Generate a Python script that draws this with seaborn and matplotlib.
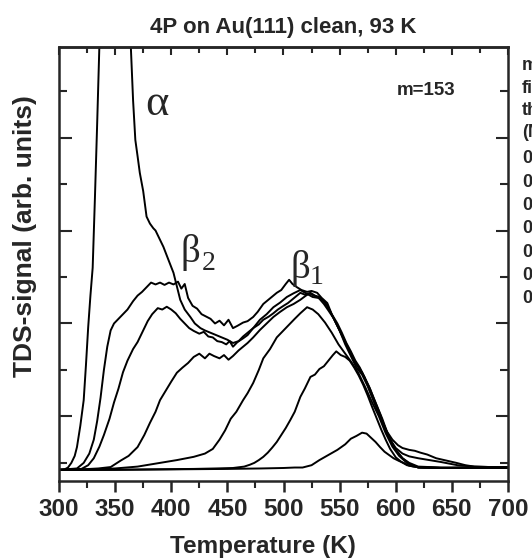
import numpy as np
import pandas as pd
import matplotlib
matplotlib.use("Agg")
import matplotlib.pyplot as plt
import seaborn as sns
from matplotlib.ticker import MultipleLocator

sns.set_style("ticks")
plt.rcParams['font.family'] = ['Liberation Sans', 'DejaVu Sans']
plt.rcParams['font.weight'] = 'bold'

# ---- data (temperature in K, TDS signal in arb. units) ----
T_C = [300, 350, 400, 450, 480, 500, 510, 517, 525, 532, 540, 548, 555, 560, 565, 570,
       574, 578, 582, 586, 590, 594, 598, 603, 607, 612, 621, 640, 660, 680, 700]
S_C = [-0.15, -0.15, -0.14, -0.13, -0.12, -0.11, -0.1, -0.1, -0.05, 0.06, 0.17, 0.28, 0.4,
       0.52, 0.58, 0.65, 0.63, 0.54, 0.45, 0.34, 0.24, 0.17, 0.1, 0.04, 0.0, -0.06, -0.1,
       -0.11, -0.1, -0.11, -0.1]

T_D = [300, 340, 380, 420, 440, 455, 465, 470, 474, 478, 482, 486, 490, 494, 498, 502, 506,
       510, 515, 519, 524, 528, 532, 536, 540, 544, 547, 551, 555, 559, 563, 567, 571, 575,
       579, 583, 587, 591, 595, 600, 605, 610, 616, 625, 640, 660, 680, 700]
S_D = [-0.15, -0.15, -0.14, -0.13, -0.12, -0.11, -0.08, -0.04, 0.0, 0.06, 0.13, 0.22, 0.33,
       0.45, 0.6, 0.75, 0.92, 1.1, 1.42, 1.6, 1.85, 1.9, 2.02, 2.08, 2.2, 2.32, 2.4, 2.32,
       2.28, 2.2, 2.05, 1.88, 1.68, 1.45, 1.2, 0.96, 0.72, 0.5, 0.3, 0.12, 0.02, -0.05, -0.08,
       -0.1, -0.11, -0.1, -0.11, -0.1]

T_E = [300, 330, 350, 370, 390, 405, 420, 430, 437, 443, 448, 453, 458, 464, 468, 473, 478,
       482, 488, 494, 500, 506, 510, 515, 521, 526, 531, 537, 543, 549, 555, 561, 567, 573,
       579, 585, 591, 597, 603, 610, 620, 650, 700]
S_E = [-0.15, -0.14, -0.12, -0.08, 0.0, 0.06, 0.13, 0.2, 0.3, 0.5, 0.7, 0.95, 1.1, 1.35, 1.5,
       1.72, 2.0, 2.25, 2.45, 2.7, 2.85, 3.0, 3.1, 3.22, 3.35, 3.3, 3.2, 3.02, 2.8, 2.55, 2.35,
       2.15, 1.92, 1.62, 1.3, 1.0, 0.64, 0.35, 0.15, 0.0, -0.1, -0.11, -0.11]

T_F = [300, 320, 335, 346, 355, 362, 370, 376, 381, 386, 390, 395, 400, 405, 410, 415, 420,
       425, 430, 434, 438, 443, 447, 451, 455, 460, 464, 468, 473, 479, 485, 491, 497, 503,
       509, 515, 520, 524, 528, 532, 537, 541, 546, 552, 558, 564, 570, 576, 582, 588, 594,
       600, 606, 612, 620, 650, 700]
S_F = [-0.15, -0.14, -0.12, -0.09, 0.05, 0.15, 0.34, 0.6, 0.86, 1.1, 1.35, 1.55, 1.75, 1.94,
       2.05, 2.15, 2.28, 2.35, 2.25, 2.35, 2.3, 2.25, 2.32, 2.22, 2.3, 2.42, 2.5, 2.58, 2.7,
       2.86, 3.0, 3.14, 3.25, 3.35, 3.42, 3.51, 3.6, 3.66, 3.6, 3.57, 3.45, 3.29, 3.05, 2.75,
       2.45, 2.15, 1.95, 1.65, 1.3, 0.95, 0.55, 0.28, 0.1, -0.02, -0.1, -0.11, -0.1]

T_G = [300, 320, 326, 331, 336, 340, 345, 349, 353, 357, 361, 366, 370, 375, 379, 383, 388,
       392, 396, 400, 404, 408, 412, 416, 420, 425, 429, 433, 437, 441, 445, 449, 452, 455,
       459, 464, 468, 473, 478, 482, 487, 491, 495, 500, 504, 508, 512, 515, 519, 523, 527,
       531, 536, 540, 545, 550, 555, 560, 565, 570, 575, 580, 585, 590, 595, 600, 606, 612,
       620, 640, 670, 700]
S_G = [-0.15, -0.13, -0.05, 0.1, 0.35, 0.6, 0.95, 1.3, 1.6, 1.95, 2.2, 2.45, 2.6, 2.85, 3.05,
       3.2, 3.33, 3.3, 3.36, 3.3, 3.22, 3.1, 3.0, 2.9, 2.84, 2.78, 2.82, 2.72, 2.7, 2.62, 2.6,
       2.55, 2.62, 2.5, 2.6, 2.68, 2.75, 2.9, 2.98, 3.08, 3.15, 3.22, 3.3, 3.38, 3.44, 3.52,
       3.6, 3.66, 3.62, 3.65, 3.6, 3.56, 3.42, 3.28, 3.1, 2.85, 2.55, 2.3, 2.05, 1.9, 1.65,
       1.35, 1.05, 0.75, 0.5, 0.28, 0.1, 0.0, -0.08, -0.1, -0.11, -0.1]

T_H = [300, 316, 322, 327, 331, 334, 337, 340, 343, 346, 349, 353, 357, 361, 366, 370, 374,
       378, 382, 386, 390, 394, 398, 402, 406, 409, 412, 415, 419, 423, 427, 431, 435, 439,
       443, 447, 451, 455, 459, 464, 468, 473, 477, 482, 486, 490, 494, 498, 502, 505, 508,
       512, 516, 521, 525, 530, 534, 539, 543, 548, 552, 556, 560, 564, 568, 572, 577, 581,
       586, 590, 595, 600, 606, 612, 620, 630, 640, 655, 670, 700]
S_H = [-0.15, -0.12, 0.0, 0.2, 0.5, 0.9, 1.4, 2.0, 2.5, 2.85, 3.0, 3.1, 3.2, 3.3, 3.48, 3.6,
       3.68, 3.78, 3.88, 3.84, 3.88, 3.83, 3.88, 3.84, 3.9, 3.75, 3.85, 3.55, 3.38, 3.32, 3.2,
       3.15, 3.1, 3.0, 3.06, 2.96, 3.08, 2.9, 2.95, 3.02, 3.05, 3.14, 3.25, 3.42, 3.5, 3.58,
       3.66, 3.72, 3.85, 3.94, 3.85, 3.78, 3.72, 3.68, 3.7, 3.66, 3.55, 3.44, 3.2, 3.0, 2.8,
       2.58, 2.4, 2.2, 2.05, 1.85, 1.6, 1.35, 1.05, 0.78, 0.5, 0.32, 0.2, 0.14, 0.1, 0.06,
       0.02, -0.05, -0.08, -0.1]

T_A = [300, 305, 308, 311, 314, 316, 319, 322, 324, 326, 328, 330, 332, 334, 336, 340, 346,
       352, 358, 362, 364, 366, 368, 370, 372, 375, 378, 381, 384, 386, 389, 393, 397, 402,
       405, 408, 412, 417, 421, 426, 430, 435, 440, 446, 450, 455, 460, 464, 468, 473, 479,
       485, 491, 497, 503, 509, 515, 520, 526, 531, 535, 539, 544, 550, 556, 562, 567, 572,
       577, 582, 587, 592, 597, 602, 606, 612, 617, 622, 628, 636, 645, 654, 662, 670, 685,
       700]
S_A = [-0.15, -0.14, -0.1, 0.0, 0.15, 0.34, 0.8, 1.35, 2.1, 2.92, 3.6, 4.2, 5.7, 7.3, 9.0,
       11.0, 12.0, 11.8, 10.8, 9.6, 8.95, 7.8, 6.95, 6.6, 6.24, 5.85, 5.3, 5.15, 5.05, 5.0,
       4.85, 4.65, 4.4, 4.09, 3.8, 3.51, 3.3, 3.14, 3.0, 2.9, 2.85, 2.8, 2.75, 2.69, 2.65,
       2.58, 2.62, 2.72, 2.8, 2.9, 3.08, 3.2, 3.35, 3.45, 3.57, 3.65, 3.72, 3.65, 3.57, 3.55,
       3.51, 3.38, 3.14, 2.85, 2.55, 2.25, 2.05, 1.85, 1.55, 1.25, 0.95, 0.68, 0.5, 0.38, 0.32,
       0.28, 0.26, 0.22, 0.18, 0.1, 0.05, 0.0, -0.05, -0.08, -0.09, -0.09]

curves = {
    'c1': (T_C, S_C), 'c2': (T_D, S_D), 'c3': (T_E, S_E), 'c4': (T_F, S_F),
    'c5': (T_G, S_G), 'c6': (T_H, S_H), 'c7': (T_A, S_A),
}
df = pd.concat([pd.DataFrame({'T': t, 'signal': s, 'curve': k})
                for k, (t, s) in curves.items()], ignore_index=True)

x_major = [300, 350, 400, 450, 500, 550, 600, 650, 700]
right_labels = ['monolayer', 'film', 'thickness', '(ML)', '0.05', '0.1', '0.2', '0.4',
                '0.6', '0.8', '0.9']

fig = plt.figure(figsize=(5.32, 5.6), dpi=100)
ax = fig.add_axes([59 / 532, 79 / 560, 449 / 532, 434 / 560])
sns.lineplot(data=df, x='T', y='signal', hue='curve', estimator=None, sort=False,
             palette=['black'] * len(curves), legend=False, linewidth=1.4, ax=ax)

ax.set_xlim(300, 700)
ax.set_ylim(-0.39, 8.95)
ax.set_xticks(x_major)
ax.xaxis.set_minor_locator(MultipleLocator(25))
ax.set_yticks([1, 3, 5, 7])
ax.set_yticks([0, 2, 4, 6, 8], minor=True)
ax.tick_params(axis='x', which='major', direction='out', length=8, width=1.8,
               labelsize=17.5, pad=4, top=False)
ax.tick_params(axis='x', which='minor', direction='out', length=5, width=1.5, top=False)
ax.tick_params(axis='y', which='major', direction='in', length=9, width=1.5,
               left=True, right=True, labelleft=False)
ax.tick_params(axis='y', which='minor', direction='in', length=6, width=1.5,
               left=True, right=True)
for lab in ax.get_xticklabels():
    lab.set_fontweight('bold')
for sp in ax.spines.values():
    sp.set_linewidth(1.8)
    sp.set_visible(True)

sec = ax.secondary_xaxis('top')
sec.set_xticks(x_major)
sec.xaxis.set_minor_locator(MultipleLocator(25))
sec.tick_params(axis='x', which='major', direction='in', length=6, width=1.5, labeltop=False)
sec.tick_params(axis='x', which='minor', direction='in', length=4, width=1.5)
sec.spines['top'].set_linewidth(1.8)

ax.set_xlabel('Temperature (K)', fontsize=17.5, fontweight='bold')
ax.xaxis.set_label_coords(0.454, -0.125)
ax.set_ylabel('TDS-signal (arb. units)', fontsize=19, fontweight='bold')
ax.yaxis.set_label_coords(-0.05, 0.565)
ax.set_title('4P on Au(111) clean, 93 K', fontsize=16, fontweight='bold', pad=10)

serif = ['Liberation Serif', 'DejaVu Serif']
ax.text(377, 7.48, 'α', family=serif, fontsize=32, fontweight='normal', va='baseline')
ax.text(408, 4.32, 'β', family=serif, fontsize=28, fontweight='normal', va='baseline')
ax.text(427.5, 4.15, '2', family=serif, fontsize=20, fontweight='normal', va='baseline')
ax.text(506, 3.98, 'β', family=serif, fontsize=28, fontweight='normal', va='baseline')
ax.text(523, 3.85, '1', family=serif, fontsize=20, fontweight='normal', va='baseline')
ax.text(601, 7.91, 'm=153', fontsize=13.5, fontweight='bold', va='baseline')

baselines = [70, 93, 115, 137, 163, 187, 210, 233, 257, 280, 303]
for lab, b in zip(right_labels, baselines):
    fig.text(522 / 532, 1 - b / 560, lab, fontsize=13, fontweight='bold', va='baseline')

fig.savefig('out.png', dpi=100)
